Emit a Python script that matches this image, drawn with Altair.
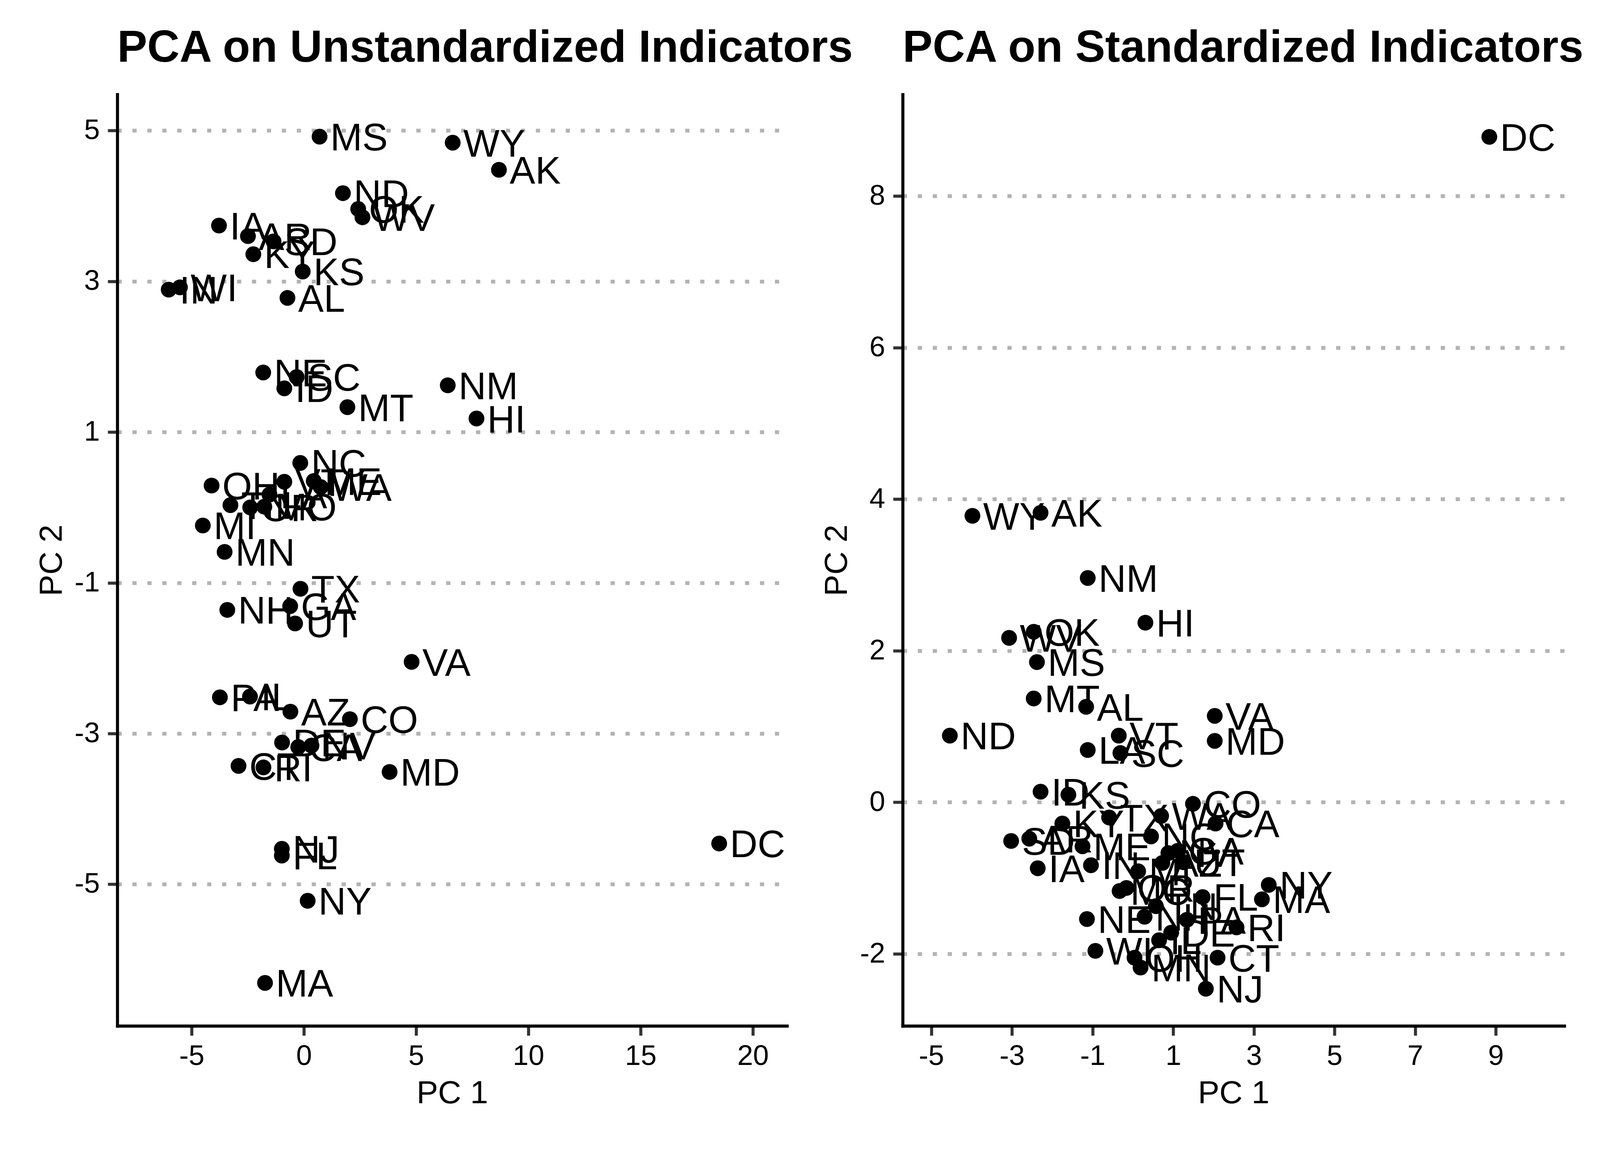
import altair as alt
import pandas as pd

states = ["AL", "AK", "AZ", "AR", "CA", "CO", "CT", "DE", "DC", "FL", "GA", "HI", "ID",
          "IL", "IN", "IA", "KS", "KY", "LA", "ME", "MD", "MA", "MI", "MN", "MS", "MO",
          "MT", "NE", "NV", "NH", "NJ", "NM", "NY", "NC", "ND", "OH", "OK", "OR", "PA",
          "RI", "SC", "SD", "TN", "TX", "UT", "VT", "VA", "WA", "WV", "WI", "WY"]

pc1_unstd = [-0.73, 8.69, -0.60, -2.49, -0.25, 2.05, -2.91, -0.97, 18.50, -0.98, -0.61, 7.69, -0.87,
             -2.40, -6.02, -3.78, -0.05, -2.25, -1.53, 0.44, 3.82, -1.73, -4.50, -3.53, 0.70, -1.76,
             1.94, -1.81, 0.34, -3.41, -0.98, 6.41, 0.17, -0.16, 1.74, -4.11, 2.42, -2.39, -3.74,
             -1.80, -0.32, -1.35, -3.27, -0.15, -0.39, -0.87, 4.80, 0.75, 2.61, -5.52, 6.63]
pc2_unstd = [2.78, 4.48, -2.71, 3.60, -3.18, -2.81, -3.43, -3.12, -4.46, -4.62, -1.31, 1.18, 1.58,
             -2.51, 2.89, 3.74, 3.13, 3.36, 0.17, 0.35, -3.51, -6.31, -0.24, -0.59, 4.92, 0.01,
             1.33, 1.79, -3.16, -1.36, -4.53, 1.62, -5.22, 0.59, 4.17, 0.29, 3.96, 0.00, -2.52,
             -3.45, 1.73, 3.53, 0.03, -1.08, -1.54, 0.34, -2.05, 0.27, 3.85, 2.92, 4.84]

pc1_std = [-1.16, -2.29, 0.73, -2.57, 2.05, 1.49, 2.10, 0.95, 8.84, 1.73, 1.11, 0.31, -2.29,
           0.65, -1.04, -2.36, -1.60, -1.75, -1.12, -1.25, 2.03, 3.20, 0.13, 0.19, -2.38, -0.33,
           -2.46, -1.14, 0.88, 0.29, 1.81, -1.12, 3.37, 0.45, -4.54, 0.04, -2.46, -0.16, 1.34,
           2.57, -0.31, -3.02, 0.57, -0.59, 1.25, -0.35, 2.03, 0.70, -3.07, -0.93, -3.98]
pc2_std = [1.26, 3.82, -0.80, -0.48, -0.28, -0.02, -2.05, -1.72, 8.78, -1.25, -0.64, 2.37, 0.14,
           -1.82, -0.83, -0.87, 0.10, -0.28, 0.69, -0.58, 0.81, -1.28, -0.91, -2.18, 1.85, -1.17,
           1.37, -1.54, -0.67, -1.51, -2.46, 2.96, -1.09, -0.45, 0.88, -2.05, 2.25, -1.13, -1.55,
           -1.65, 0.65, -0.51, -1.37, -0.20, -0.79, 0.88, 1.14, -0.18, 2.17, -1.96, 3.78]

left_x_ticks = [-5, 0, 5, 10, 15, 20]
left_y_ticks = [-5, -3, -1, 1, 3, 5]
right_x_ticks = [-5, -3, -1, 1, 3, 5, 7, 9]
right_y_ticks = [-2, 0, 2, 4, 6, 8]

FONT = "Liberation Sans"
LABEL_EXPR = "'' + datum.value"


def panel(pc1, pc2, title, xdom, ydom, xticks, yticks, width):
    df = pd.DataFrame({"state": states, "pc1": pc1, "pc2": pc2})
    base = alt.Chart(df)
    x_enc = alt.X(
        "pc1:Q",
        scale=alt.Scale(domain=xdom, nice=False, zero=False),
        axis=alt.Axis(values=xticks, title="PC 1", grid=False, labelPadding=18,
                      labelExpr=LABEL_EXPR, titleY=201, titleBaseline="alphabetic"),
    )
    y_enc = alt.Y(
        "pc2:Q",
        scale=alt.Scale(domain=ydom, nice=False, zero=False),
        axis=alt.Axis(values=yticks, title="PC 2", grid=True, gridDash=[11, 28],
                      gridColor="#b3b3b3", gridWidth=10, labelPadding=21,
                      labelExpr=LABEL_EXPR, titleX=-146, titleBaseline="alphabetic"),
    )
    pts = base.mark_circle(size=1700, color="black", opacity=1).encode(x=x_enc, y=y_enc)
    txt = base.mark_text(align="left", baseline="middle", dx=28, dy=6, fontSize=100,
                         font=FONT, color="black").encode(x="pc1:Q", y="pc2:Q", text="state:N")
    return alt.layer(pts, txt).properties(
        width=width,
        height=2431,
        title=alt.TitleParams(text=title, anchor="start", frame="group", fontSize=117,
                              fontWeight="bold", font=FONT, color="black",
                              baseline="alphabetic", offset=-32),
    )


left = panel(pc1_unstd, pc2_unstd, "PCA on Unstandardized Indicators",
             [-8.31, 21.52], [-6.88, 5.48], left_x_ticks, left_y_ticks, 1748)
right = panel(pc1_std, pc2_std, "PCA on Standardized Indicators",
              [-5.71, 10.70], [-2.95, 9.34], right_x_ticks, right_y_ticks, 1727)

chart = alt.hconcat(left, right, spacing=302).properties(
    bounds="flush",
    padding={"left": 85, "top": 31, "right": 30, "bottom": 30},
).configure_view(strokeWidth=0).configure_axis(
    domainColor="black", domainWidth=8, domainCap="square",
    tickColor="#333333", tickWidth=8, tickSize=25,
    labelFont=FONT, labelFontSize=74, labelColor="black",
    titleFont=FONT, titleFontSize=84, titleFontWeight="normal", titleColor="black",
)

chart.save("out.html", embed_options={"renderer": "svg", "actions": False})
